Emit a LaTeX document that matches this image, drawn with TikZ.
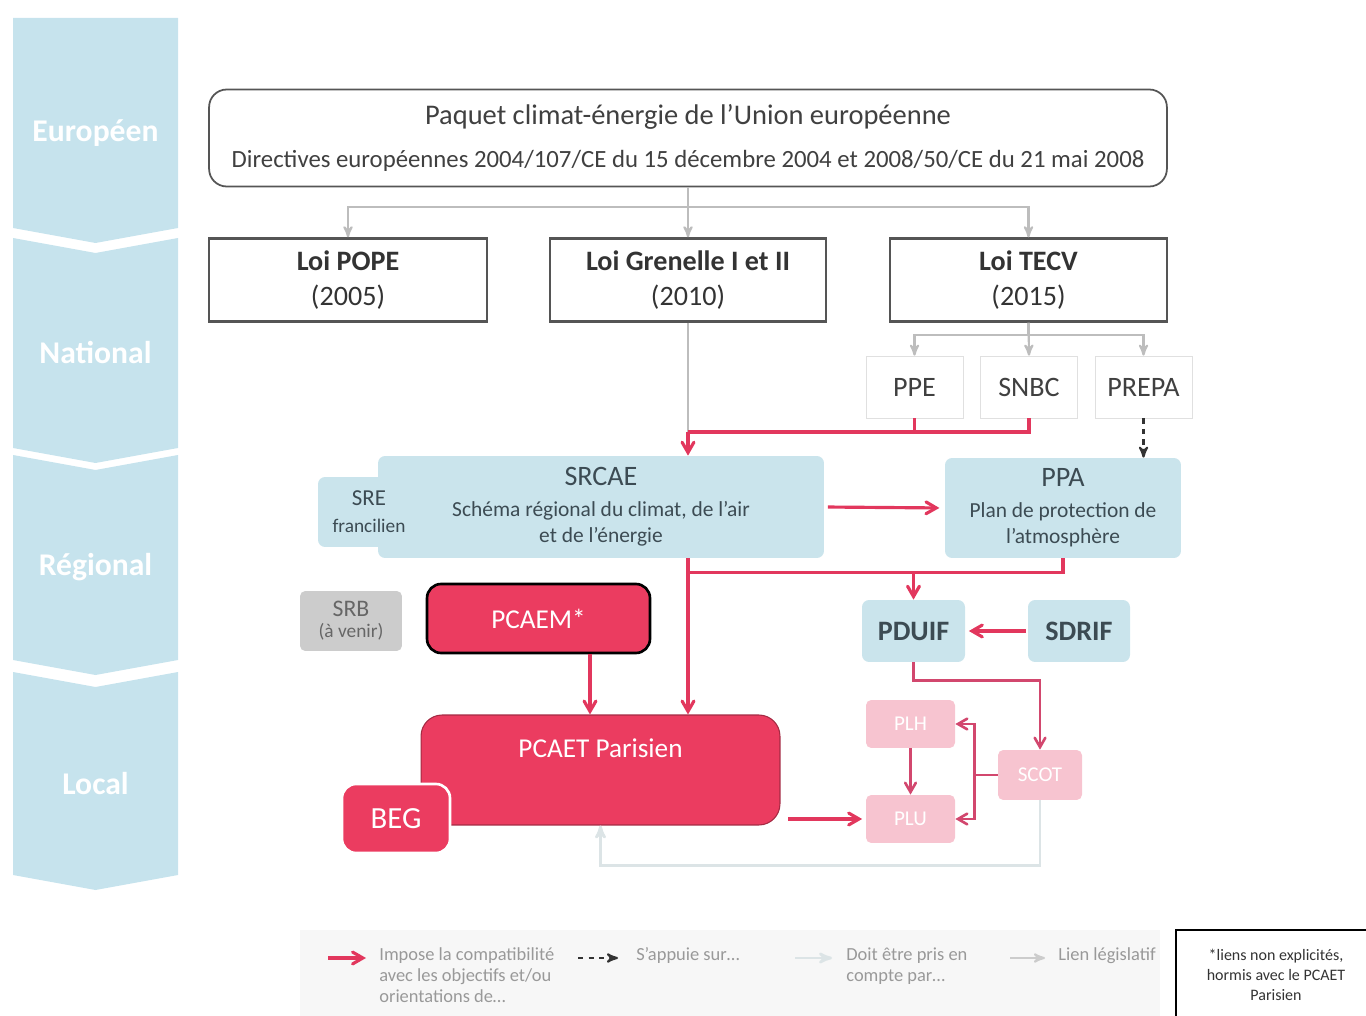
\documentclass[tikz,border=0pt]{standalone}
\usepackage{fontspec}
\setmainfont{Carlito}
\usetikzlibrary{arrows}
\usetikzlibrary{positioning}

\definecolor{bandblue}{HTML}{C6E3ED}
\definecolor{boxblue}{HTML}{CAE4EC}
\definecolor{slate}{HTML}{3C4B53}
\definecolor{crimson}{HTML}{EB3C60}
\definecolor{redlink}{HTML}{E2375D}
\definecolor{pinkfill}{HTML}{F7C4D0}
\definecolor{pinklink}{HTML}{D2476E}
\definecolor{lawgray}{HTML}{555555}
\definecolor{linkgray}{HTML}{BDBDBD}
\definecolor{palelink}{HTML}{DCE4E6}

\begin{document}
\begin{tikzpicture}[x=0.02cm, y=-0.02cm,
  topbox/.style={draw=lawgray, line width=1pt, rounded corners=10pt, fill=white, align=center, text=black!75,
    minimum width=19.16cm, minimum height=1.94cm, font=\fontsize{14.1}{17}\selectfont},
  lawbox/.style={draw=lawgray, line width=1.3pt, fill=white, align=center, text=black!80,
    minimum height=1.66cm, font=\fontsize{16}{20}\selectfont},
  subbox/.style={draw=black!12, fill=white, text=black!75, minimum width=1.94cm, minimum height=1.24cm,
    font=\fontsize{16}{16}\selectfont},
  blubox/.style={fill=boxblue, rounded corners=4pt, align=center, text=slate, font=\fontsize{12.2}{15.3}\selectfont},
  redbox/.style={fill=crimson, text=white, rounded corners=8pt},
  locbox/.style={fill=pinkfill, text=white, rounded corners=3pt, font=\fontsize{12}{12}\selectfont},
  legtext/.style={anchor=north west, inner sep=0pt, align=left, text=black!40, font=\fontsize{10.5}{12}\selectfont},
  graylink/.style={draw=linkgray, line width=1.2pt, ->, >=stealth'},
  grayline/.style={draw=linkgray, line width=1.2pt},
  redline/.style={draw=redlink, line width=1.8pt},
  redarr/.style={draw=redlink, line width=1.8pt, ->, >=angle 60},
  pinkline/.style={draw=pinklink, line width=1.5pt},
  pinkarr/.style={draw=pinklink, line width=1.5pt, ->, >=angle 60},
  dasharr/.style={draw=black!80, line width=1.2pt, dashed, ->, >=stealth'},
  paleline/.style={draw=palelink, line width=1.5pt, ->, >=stealth'}]
\useasboundingbox (0,0) rectangle (1366,1016);

\foreach \t/\b/\lab [count=\i] in {18/228/Européen, 238/448/National, 455/660/Régional, 672/875/Local} {
 \pgfmathsetmacro\d{\i==1 ? 0 : 15}
 \fill[bandblue] (13,\t) -- (95.5,\t+\d) -- (178,\t) -- (178,\b) -- (95.5,\b+15) -- (13,\b) -- cycle;
 \node[text=white, font=\bfseries\fontsize{18}{18}\selectfont] (lvl\i) at (95.5,{(\t+\b)/2+10}) {\lab};
}

\node[topbox] (paquet) at (688,138) {{\fontsize{16.2}{17}\selectfont Paquet climat-énergie de l’Union européenne}\\[8pt]
 Directives européennes 2004/107/CE du 15 décembre 2004 et 2008/50/CE du 21 mai 2008};
\node[lawbox, minimum width=5.56cm] (pope) at (348,280) {\textbf{Loi POPE}\\(2005)};
\node[lawbox, minimum width=5.52cm] (grenelle) at (688,280) {\textbf{Loi Grenelle I et II}\\(2010)};
\node[lawbox, minimum width=5.54cm] (tecv) at (1028.5,280) {\textbf{Loi TECV}\\(2015)};
\node[subbox] (ppe) at (914.5,387) {PPE};
\node[subbox] (snbc) at (1029,387) {SNBC};
\node[subbox] (prepa) at (1143.5,387) {PREPA};

\node[blubox, minimum width=8.92cm, minimum height=2.04cm] (srcae) at (601,507)
 {{\fontsize{16}{16}\selectfont SRCAE}\\[2pt]Schéma régional du climat, de l’air\\et de l’énergie};
\node[blubox, minimum width=2.04cm, minimum height=1.4cm] (sre) at (369,512)
 {{\fontsize{13}{13}\selectfont SRE}\\{\fontsize{11}{12}\selectfont francilien}};
\node[blubox, minimum width=4.72cm, minimum height=2cm] (ppa) at (1063,508)
 {{\fontsize{16}{16}\selectfont PPA}\\[2pt]Plan de protection de\\l’atmosphère};
\node[blubox, font=\bfseries\fontsize{16}{16}\selectfont, minimum width=2.06cm, minimum height=1.24cm] (pduif) at (913.5,631) {PDUIF};
\node[blubox, font=\bfseries\fontsize{16}{16}\selectfont, minimum width=2.04cm, minimum height=1.24cm] (sdrif) at (1079,631) {SDRIF};
\node[fill=black!20, rounded corners=3pt, text=black!60, align=center, minimum width=2.04cm, minimum height=1.2cm] (srb) at (351,621)
 {{\fontsize{13.5}{14}\selectfont SRB}\\{\fontsize{11}{12}\selectfont (à venir)}};

\node[redbox, draw=black, line width=1.5pt, minimum width=4.46cm, minimum height=1.38cm, font=\fontsize{15.5}{16}\selectfont] (pcaem) at (538.5,618.5) {PCAEM*};
\node[redbox, draw=crimson!70!black, line width=0.6pt, rounded corners=12pt, minimum width=7.18cm, minimum height=2.2cm,
 label={[anchor=north, yshift=-0.36cm, text=white, font=\fontsize{15.5}{16}\selectfont]north:PCAET Parisien}] (pcaet) at (600.5,770) {};
\node[redbox, draw=white, line width=1.5pt, minimum width=2.16cm, minimum height=1.38cm, font=\fontsize{17.5}{18}\selectfont] (beg) at (396,818.5) {BEG};

\node[locbox, minimum width=1.78cm, minimum height=0.96cm] (plh) at (910.5,724) {PLH};
\node[locbox, minimum width=1.78cm, minimum height=0.96cm] (plu) at (910.5,819) {PLU};
\node[locbox, minimum width=1.68cm, minimum height=1cm] (scot) at (1040,775) {SCOT};

\draw[graylink] (paquet.south) -- ++(0,20) -| (pope.north);
\draw[graylink] (paquet.south) -- (grenelle.north);
\draw[graylink] (paquet.south) -- ++(0,20) -| (tecv.north);
\draw[graylink] (tecv.south) -- ++(0,12) -| (ppe.north);
\draw[graylink] (tecv.south) -- (snbc.north);
\draw[graylink] (tecv.south) -- ++(0,12) -| (prepa.north);

\coordinate (hub) at (grenelle.south |- 0,432);
\draw[grayline] (grenelle.south) -- (hub);
\draw[redline] (ppe.south) |- (hub);
\draw[redline] (snbc.south) |- (hub);
\draw[redarr] (hub) -- (hub |- srcae.north);
\draw[dasharr] (prepa.south) -- (prepa.south |- ppa.north);
\draw[redarr, shorten <=2pt, shorten >=3pt] (srcae.east) -- (ppa.west);
\draw[redarr] (hub |- srcae.south) -- (hub |- pcaet.north);
\coordinate (split) at ([yshift=-0.28cm]ppa.south);
\draw[redline] (ppa.south) -- (split) -- (split -| hub);
\draw[redarr] (split -| pduif.north) -- (pduif.north);
\draw[redarr, shorten <=1pt, shorten >=2pt] (sdrif.west) -- (pduif.east);
\draw[redarr] ([xshift=1.03cm]pcaem.south) -- ([xshift=1.03cm]pcaem.south |- pcaet.north);
\draw[redarr, shorten <=0.16cm, shorten >=2pt] (pcaet.east |- plu.west) -- (plu.west);
\draw[pinkarr] (plh.south) -- (plu.north);
\draw[pinkline] (scot.west) -- ++(-23,0) coordinate (fork);
\draw[pinkarr] (fork) |- (plh.east);
\draw[pinkarr] (fork) |- (plu.east);
\draw[pinkarr] (pduif.south) -- ++(0,18) -| (scot.north);
\draw[paleline] (scot.south) -- ++(0,65) -| (pcaet.south);

\fill[black!3] (300,930) rectangle (1160,1016);
\node[legtext] (leg1) at (379,947) {Impose la compatibilité\\avec les objectifs et/ou\\orientations de…};
\node[legtext] (leg2) at (636,947) {S’appuie sur…};
\node[legtext] (leg3) at (846,947) {Doit être pris en\\compte par…};
\node[legtext] (leg4) at (1058,947) {Lien législatif};
\draw[redarr] (leg1.north west) ++(-51,11) -- ++(38,0);
\draw[dasharr] (leg2.north west) ++(-58,11) -- ++(40,0);
\draw[paleline] (leg3.north west) ++(-51,11) -- ++(37,0);
\draw[graylink, draw=black!20] (leg4.north west) ++(-48,11) -- ++(35,0);

\node[draw=black, line width=0.8pt, fill=white, text=black!80, align=center, font=\fontsize{9.1}{11.2}\selectfont,
 minimum width=4cm, minimum height=1.8cm] (note) at (1276,975) {*liens non explicités,\\hormis avec le PCAET\\Parisien};
\end{tikzpicture}
\end{document}
